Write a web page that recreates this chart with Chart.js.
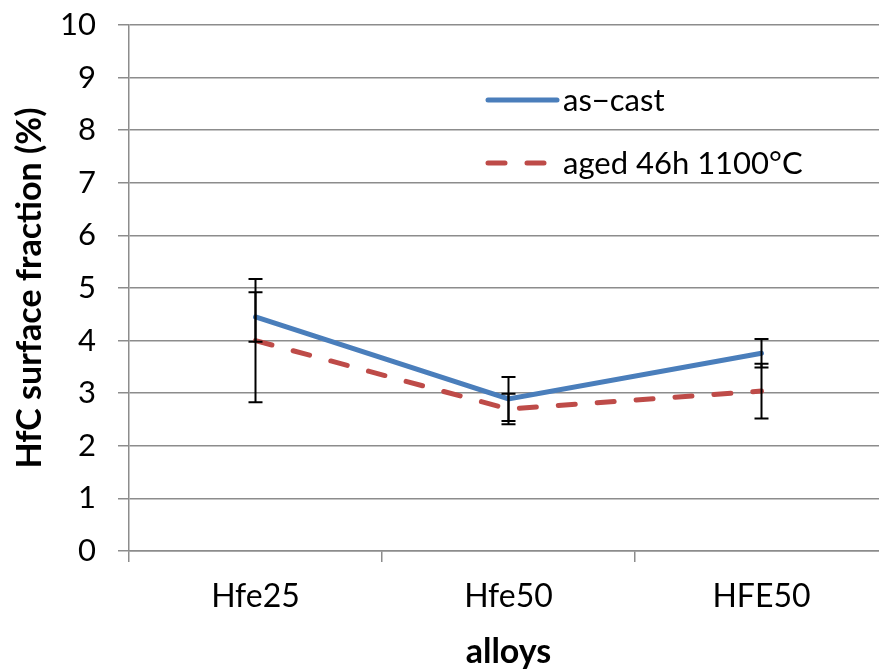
<!DOCTYPE html>
<html>
<head>
<meta charset="utf-8">
<script src="https://cdn.jsdelivr.net/npm/chart.js@4.4.1/dist/chart.umd.min.js"></script>
<style>
  html, body { margin: 0; padding: 0; background: #fff; overflow: hidden; }
  #wrap { width: 888px; height: 672px; }
</style>
</head>
<body>
<div id="wrap"><canvas id="chart" width="888" height="672"></canvas></div>
<script>
const alloys = ["Hfe25", "Hfe50", "HFE50"];
const asCast = [4.45, 2.89, 3.76];
const asCastErr = [0.47, 0.42, 0.27];
const aged = [4.0, 2.70, 3.04];
const agedErr = [1.17, 0.29, 0.52];
const yTicks = [0, 1, 2, 3, 4, 5, 6, 7, 8, 9, 10];

const FONT = "Lato, 'Liberation Sans', sans-serif";
const BLUE = "#4a7ebb";
const RED = "#be4b48";
const GRID = "#8c8c8c";

// error bars drawn from the dataset values through the scales
const errorBars = {
    id: "errorBars",
    afterDatasetsDraw(chart) {
        const ctx = chart.ctx;
        const x = chart.scales.x;
        const y = chart.scales.y;
        ctx.save();
        ctx.strokeStyle = "#000";
        ctx.lineWidth = 2;
        chart.data.datasets.forEach((ds) => {
            ds.data.forEach((v, i) => {
                const px = x.getPixelForValue(i);
                const top = y.getPixelForValue(v + ds.err[i]);
                const bot = y.getPixelForValue(v - ds.err[i]);
                ctx.beginPath();
                ctx.moveTo(px, top); ctx.lineTo(px, bot);
                ctx.moveTo(px - 7, top); ctx.lineTo(px + 7, top);
                ctx.moveTo(px - 7, bot); ctx.lineTo(px + 7, bot);
                ctx.stroke();
            });
        });
        ctx.restore();
    }
};

// legend inside the plot area, no box
const innerLegend = {
    id: "innerLegend",
    afterDraw(chart) {
        const ctx = chart.ctx;
        const rows = [
            { ds: chart.data.datasets[0], y: 100, x2: 557 },
            { ds: chart.data.datasets[1], y: 163, x2: 549 }
        ];
        ctx.save();
        ctx.lineCap = "round";
        rows.forEach((r) => {
            ctx.strokeStyle = r.ds.borderColor;
            ctx.lineWidth = 5;
            ctx.setLineDash(r.ds.borderDash || []);
            ctx.beginPath();
            ctx.moveTo(488, r.y);
            ctx.lineTo(r.x2, r.y);
            ctx.stroke();
            ctx.setLineDash([]);
            ctx.fillStyle = "#000";
            ctx.font = "31px " + FONT;
            ctx.textBaseline = "middle";
            ctx.fillText(r.ds.label, 563, r.y + 1);
        });
        ctx.restore();
    }
};

new Chart(document.getElementById("chart"), {
    type: "line",
    data: {
        labels: alloys,
        datasets: [
            {
                label: "as\u2212cast",
                data: asCast,
                err: asCastErr,
                borderColor: BLUE,
                borderWidth: 5,
                borderCapStyle: "round",
                pointRadius: 0,
                tension: 0
            },
            {
                label: "aged 46h 1100°C",
                data: aged,
                err: agedErr,
                borderColor: RED,
                borderWidth: 5,
                borderDash: [17, 22],
                borderCapStyle: "round",
                pointRadius: 0,
                tension: 0
            }
        ]
    },
    options: {
        responsive: false,
        animation: false,
        layout: { padding: { top: 25, right: 0, left: 0, bottom: 0 } },
        plugins: {
            legend: { display: false },
            tooltip: { enabled: false }
        },
        scales: {
            x: {
                offset: true,
                grid: { drawOnChartArea: false, offset: true, tickLength: 11, color: GRID, lineWidth: 1.5 },
                border: { color: GRID, width: 1.5 },
                ticks: { color: "#000", font: { family: FONT, size: 32 }, padding: 15 },
                title: { display: true, text: "alloys", color: "#000", font: { family: FONT, size: 34, weight: "bold" }, padding: { top: 6, bottom: 0 } },
                afterFit(s) { s.height = 121; s.paddingLeft = 0; s.paddingRight = 0; }
            },
            y: {
                min: 0,
                max: 10,
                afterBuildTicks(s) { s.ticks = yTicks.map((v) => ({ value: v })); },
                grid: { color: GRID, lineWidth: 1.5, tickLength: 11 },
                border: { color: GRID, width: 1.5 },
                ticks: { color: "#000", font: { family: FONT, size: 31 }, padding: 22 },
                title: { display: true, text: "HfC surface fraction (%)", color: "#000", font: { family: FONT, size: 34, weight: "bold" }, padding: { top: 10, bottom: 0 } },
                afterFit(s) { s.width = 129; s.paddingTop = 0; s.paddingBottom = 0; }
            }
        }
    },
    plugins: [errorBars, innerLegend]
});
</script>
</body>
</html>
